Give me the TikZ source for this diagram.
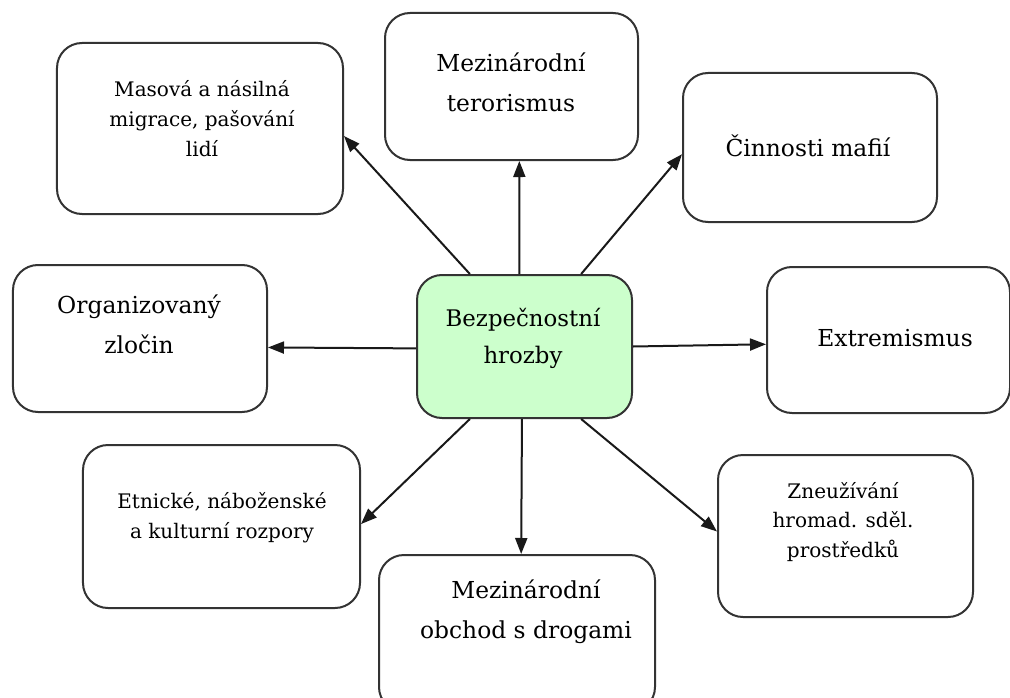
\documentclass[tikz,border=0pt]{standalone}
\usepackage{fontspec}
\setmainfont{DejaVu Serif}
\usetikzlibrary{arrows.meta}
\definecolor{hubgreen}{RGB}{204,255,204}
\tikzset{
  box/.style={draw=black!80, line width=0.4mm, rounded corners=5mm, fill=white, inner sep=0pt},
  hubbox/.style={box, fill=hubgreen},
  bigtxt/.style={align=center, font=\fontsize{13.3}{22.8}\selectfont, inner sep=0pt},
  smalltxt/.style={align=center, font=\fontsize{11.4}{17}\selectfont, inner sep=0pt},
  link/.style={line width=0.4mm, black!90, -{Triangle[length=3.2mm,width=2.4mm]}}
}

\begin{document}
\begin{tikzpicture}[x=0.2mm,y=-0.2mm]
            \useasboundingbox (0,0) rectangle (1010,698);
            % boxes
            \node[hubbox, minimum width=43mm, minimum height=28.6mm] (hub) at (524.5,346.5) {};
            \node[box, minimum width=57.2mm, minimum height=34.2mm] (mig) at (200,128.5) {};
            \node[box, minimum width=50.6mm, minimum height=29.4mm] (terr) at (511.5,86.5) {};
            \node[box, minimum width=50.8mm, minimum height=29.8mm] (mafia) at (810,147.5) {};
            \node[box, minimum width=50.8mm, minimum height=29.4mm] (org) at (140,338.5) {};
            \node[box, minimum width=48.6mm, minimum height=29.2mm] (ext) at (888.5,340) {};
            \node[box, minimum width=55.4mm, minimum height=32.6mm] (ethn) at (221.5,526.5) {};
            \node[box, minimum width=55.2mm, minimum height=31.4mm] (drug) at (517,633.5) {};
            \node[box, minimum width=51mm, minimum height=32.4mm] (media) at (845.5,536) {};
            % texts
            \node[bigtxt, font=\fontsize{13}{21}\selectfont] (hub-t) at (523,338) {Bezpečnostní\\hrozby};
            \node[smalltxt] (mig-t) at (202,119) {Masová a násilná\\migrace, pašování\\lidí};
            \node[bigtxt] (terr-t) at (511,82) {Mezinárodní\\terorismus};
            \node[bigtxt] (mafia-t) at (808,146) {Činnosti mafií};
            \node[bigtxt] (org-t) at (139,324) {Organizovaný\\zločin};
            \node[bigtxt] (ext-t) at (895,338) {Extremismus};
            \node[smalltxt] (ethn-t) at (222,518) {Etnické, náboženské\\a kulturní rozpory};
            \node[bigtxt] (drug-t) at (526,612) {Mezinárodní\\obchod s drogami};
            \node[smalltxt] (media-t) at (843,522) {Zneužívání\\hromad. sděl.\\prostředků};
            % arrows
            \draw[link] (hub.127.3) -- (mig.-3.8);
            \draw[link] (hub.94.4) -- (terr.-84.2);
            \draw[link] (hub.52.2) -- (mafia.-177.5);
            \draw[link] (hub.181) -- (org.-4.3);
            \draw[link] (hub.0.8) -- (ext.182.4);
            \draw[link] (hub.-127.3) -- (ethn.1.4);
            \draw[link] (hub.-92.8) -- (drug.87.1);
            \draw[link] (hub.-52.2) -- (media.178.7);
\end{tikzpicture}
\end{document}
